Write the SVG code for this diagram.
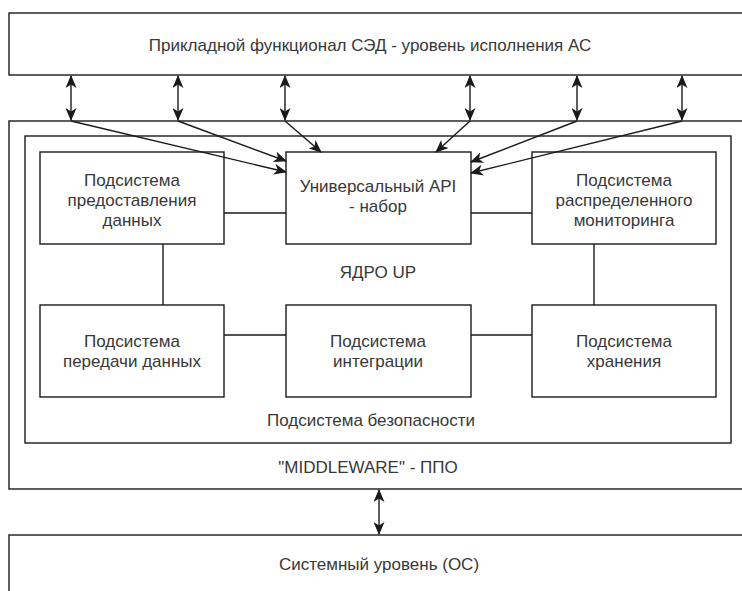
<svg xmlns="http://www.w3.org/2000/svg" width="742" height="591" viewBox="0 0 742 591">
  <style>
    .box { fill: #ffffff; stroke: #1a1a1a; stroke-width: 1.4; }
    .frame { fill: none; stroke: #1a1a1a; stroke-width: 1.4; }
    .lbl { font-family: "Liberation Sans", Arial, sans-serif; font-size: 17px; fill: #383838; text-anchor: middle; }
    .link { fill: none; stroke: #1a1a1a; stroke-width: 1.4; }
    .arr { fill: none; stroke: #1a1a1a; stroke-width: 1.4; marker-end: url(#head); }
    .dbl { fill: none; stroke: #1a1a1a; stroke-width: 1.4; marker-start: url(#head); marker-end: url(#head); }
  </style>
  <defs>
    <marker id="head" viewBox="0 0 13 11" refX="12" refY="5.5" markerWidth="13" markerHeight="11" markerUnits="userSpaceOnUse" orient="auto-start-reverse">
      <path d="M0,0 L13,5.5 L0,11 L3.5,5.5 Z" fill="#1a1a1a"/>
    </marker>
  </defs>
  <rect width="742" height="591" fill="#ffffff"/>

  <g id="app-layer">
    <rect class="box" x="9" y="13" width="745" height="62"/>
    <text class="lbl" x="370" y="51">Прикладной функционал СЭД - уровень исполнения АС</text>
  </g>

  <g id="middleware">
    <rect class="box" x="9" y="121" width="745" height="368"/>
    <text class="lbl" x="368" y="473">"MIDDLEWARE" - ППО</text>
  </g>

  <g id="core">
    <rect class="frame" x="25" y="136" width="706" height="307"/>
    <text class="lbl" x="378" y="278">ЯДРО UP</text>
    <text class="lbl" x="371" y="426">Подсистема безопасности</text>
  </g>

  <g id="os-layer">
    <rect class="box" x="9" y="535" width="745" height="70"/>
    <text class="lbl" x="379" y="570">Системный уровень (ОС)</text>
  </g>

  <g id="data-provision">
    <rect class="box" x="40" y="152" width="184" height="92"/>
    <text class="lbl" x="132" y="186">Подсистема</text>
    <text class="lbl" x="132" y="206">предоставления</text>
    <text class="lbl" x="132" y="226">данных</text>
  </g>

  <g id="api-set">
    <rect class="box" x="286" y="152" width="185" height="92"/>
    <text class="lbl" x="378" y="192">Универсальный API</text>
    <text class="lbl" x="378" y="212">- набор</text>
  </g>

  <g id="monitoring">
    <rect class="box" x="532" y="152" width="184" height="92"/>
    <text class="lbl" x="624" y="186">Подсистема</text>
    <text class="lbl" x="624" y="206">распределенного</text>
    <text class="lbl" x="624" y="226">мониторинга</text>
  </g>

  <g id="data-transfer">
    <rect class="box" x="40" y="305" width="184" height="92"/>
    <text class="lbl" x="132" y="347">Подсистема</text>
    <text class="lbl" x="132" y="367">передачи данных</text>
  </g>

  <g id="integration">
    <rect class="box" x="286" y="305" width="185" height="92"/>
    <text class="lbl" x="378" y="347">Подсистема</text>
    <text class="lbl" x="378" y="367">интеграции</text>
  </g>

  <g id="storage">
    <rect class="box" x="532" y="305" width="184" height="92"/>
    <text class="lbl" x="624" y="347">Подсистема</text>
    <text class="lbl" x="624" y="367">хранения</text>
  </g>

  <g id="connectors">
    <!-- app layer <-> middleware -->
    <line class="dbl" x1="71" y1="76" x2="71" y2="120"/>
    <line class="dbl" x1="178" y1="76" x2="178" y2="120"/>
    <line class="dbl" x1="285" y1="76" x2="285" y2="120"/>
    <line class="dbl" x1="470" y1="76" x2="470" y2="120"/>
    <line class="dbl" x1="577" y1="76" x2="577" y2="120"/>
    <line class="dbl" x1="682" y1="76" x2="682" y2="120"/>
    <!-- fan-in to the API set -->
    <line class="arr" x1="71" y1="121" x2="286" y2="172"/>
    <line class="arr" x1="178" y1="121" x2="286" y2="161"/>
    <line class="arr" x1="285" y1="121" x2="321" y2="152"/>
    <line class="arr" x1="470" y1="121" x2="436" y2="152"/>
    <line class="arr" x1="577" y1="121" x2="471" y2="162"/>
    <line class="arr" x1="682" y1="121" x2="471" y2="173"/>
    <!-- links between subsystems -->
    <line class="link" x1="224" y1="213" x2="286" y2="213"/>
    <line class="link" x1="471" y1="213" x2="532" y2="213"/>
    <line class="link" x1="163" y1="244" x2="163" y2="305"/>
    <line class="link" x1="594" y1="244" x2="594" y2="305"/>
    <line class="link" x1="224" y1="335" x2="286" y2="335"/>
    <line class="link" x1="471" y1="335" x2="532" y2="335"/>
    <!-- middleware <-> OS -->
    <line class="dbl" x1="379" y1="490" x2="379" y2="534"/>
  </g>
</svg>
